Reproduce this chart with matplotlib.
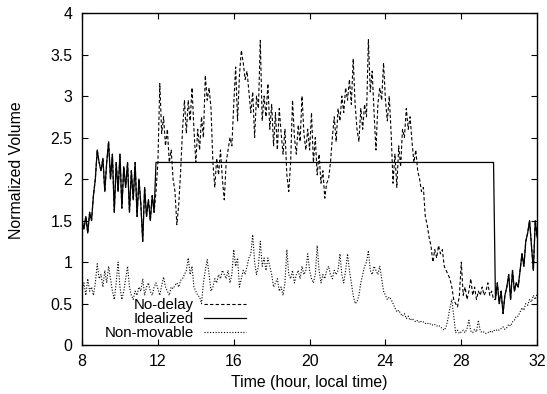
import numpy as np
import matplotlib
matplotlib.use("Agg")
import matplotlib.pyplot as plt
from matplotlib.ticker import FormatStrFormatter, MultipleLocator

plt.rcParams['font.family'] = ['Liberation Sans', 'DejaVu Sans']

# time grid: 8h .. 32h, one sample every 0.1 hour
hours = np.round(np.arange(8.0, 32.0001, 0.1), 1)

# No-delay volume (10 values per hour)
no_delay = [
    1.5, 1.4, 1.55, 1.35, 1.6, 1.5, 1.8, 2.0, 2.35, 2.2,        # 8
    2.1, 2.25, 1.85, 2.2, 2.45, 2.0, 2.3, 1.6, 2.2, 1.85,       # 9
    2.3, 1.65, 2.15, 1.9, 2.2, 1.6, 2.1, 1.75, 2.2, 1.55,       # 10
    2.0, 1.7, 1.25, 1.9, 1.55, 1.75, 1.5, 1.8, 1.6, 1.85,       # 11
    2.2, 3.15, 2.55, 2.75, 2.4, 2.6, 2.2, 2.35, 2.0, 1.85,      # 12
    1.45, 1.7, 2.1, 2.6, 2.95, 2.55, 2.95, 2.7, 3.1, 2.6,       # 13
    2.2, 2.6, 2.35, 2.75, 2.5, 3.25, 2.95, 3.1, 2.85, 2.2,      # 14
    1.9, 2.25, 2.05, 2.35, 2.0, 1.75, 2.2, 2.35, 2.5, 2.4,      # 15
    2.9, 3.35, 2.7, 3.25, 3.55, 3.4, 3.2, 3.3, 3.05, 2.8,       # 16
    3.05, 2.5, 3.0, 2.85, 3.67, 2.7, 3.0, 2.75, 3.15, 2.6,      # 17
    2.9, 2.4, 2.8, 2.35, 2.85, 2.55, 2.3, 2.6, 2.05, 1.85,      # 18
    2.2, 2.95, 2.5, 2.3, 2.65, 2.45, 3.0, 2.55, 2.35, 2.6,      # 19
    2.35, 2.8, 2.2, 2.5, 2.05, 2.3, 1.95, 2.1, 1.77, 1.95,      # 20
    2.0, 2.2, 2.5, 2.75, 2.45, 2.85, 2.7, 3.0, 2.8, 3.1,        # 21
    2.95, 3.2, 2.9, 3.45, 2.9, 2.6, 2.45, 2.85, 2.6, 2.9,       # 22
    2.75, 3.68, 3.05, 3.3, 2.8, 2.35, 2.9, 3.1, 2.95, 3.4,      # 23
    2.95, 2.7, 3.0, 2.55, 1.95, 2.3, 1.9, 2.4, 2.15, 2.6,       # 24
    2.5, 2.85, 2.6, 2.75, 2.45, 2.2, 2.35, 2.1, 2.0, 1.85,      # 25
    1.9, 1.55, 1.45, 1.3, 1.2, 1.0, 1.15, 1.05, 1.2, 1.1,       # 26
    1.15, 0.95, 0.9, 0.85, 0.8, 0.7, 0.55, 0.5, 0.46, 0.6,      # 27
    1.0, 0.6, 0.7, 0.55, 0.65, 0.8, 0.6, 0.7, 0.55, 0.65,       # 28
    0.6, 0.7, 0.6, 0.65, 0.75, 0.6, 0.65, 0.55, 0.55, 0.75,     # 29
    0.5, 0.65, 0.38, 0.6, 0.7, 0.85, 0.55, 0.9, 0.65, 0.75,     # 30
    0.7, 0.9, 1.1, 0.95, 1.25, 1.35, 1.5, 1.2, 0.9, 1.5,        # 31
    1.3,                                                        # 32
]

# Idealized: flat level while traffic is shifted, otherwise same as no-delay
ideal_level = 2.2
ideal_start = 11.9
ideal_end = 29.7

# Non-movable volume
non_movable = [
    0.65, 0.75, 0.6, 0.8, 0.65, 0.7, 0.6, 0.75, 0.98, 0.8,      # 8
    0.85, 0.7, 0.9, 0.75, 0.95, 0.8, 0.65, 0.55, 0.75, 1.0,     # 9
    0.7, 0.55, 0.65, 0.8, 0.95, 0.7, 0.6, 0.55, 0.65, 0.6,      # 10
    0.7, 0.65, 0.8, 0.6, 0.7, 0.75, 0.65, 0.6, 0.7, 0.75,       # 11
    0.68, 0.6, 0.72, 0.82, 0.7, 0.65, 0.6, 0.7, 0.68, 0.72,     # 12
    0.75, 0.7, 0.78, 0.8, 0.85, 0.9, 1.05, 0.85, 0.95, 0.7,     # 13
    0.65, 0.6, 0.58, 0.5, 0.75, 0.9, 1.03, 0.85, 0.65, 0.7,     # 14
    0.8, 0.75, 0.85, 0.8, 0.9, 0.85, 0.8, 0.9, 0.75, 0.85,      # 15
    1.15, 0.95, 1.05, 0.7, 0.8, 0.9, 0.85, 0.95, 1.05, 1.1,     # 16
    1.33, 1.0, 0.85, 0.95, 1.25, 0.95, 1.05, 0.9, 1.05, 0.95,   # 17
    0.85, 0.7, 0.75, 0.8, 0.65, 0.7, 0.6, 0.75, 1.15, 0.85,     # 18
    0.8, 0.9, 0.75, 0.85, 0.9, 0.8, 0.95, 0.85, 0.9, 1.1,       # 19
    0.9, 0.8, 0.75, 0.85, 1.2, 0.9, 0.75, 0.85, 0.8, 0.9,       # 20
    0.95, 0.85, 0.8, 0.9, 0.85, 0.9, 1.1, 0.85, 0.75, 0.9,      # 21
    1.1, 0.9, 0.75, 0.6, 0.5, 0.52, 0.6, 0.75, 0.85, 0.95,      # 22
    1.0, 1.14, 0.9, 0.85, 0.95, 0.9, 0.85, 0.95, 0.8, 0.65,     # 23
    0.6, 0.55, 0.58, 0.55, 0.5, 0.45, 0.4, 0.42, 0.38, 0.35,    # 24
    0.38, 0.32, 0.35, 0.3, 0.32, 0.3, 0.28, 0.3, 0.27, 0.29,    # 25
    0.28, 0.26, 0.27, 0.25, 0.26, 0.24, 0.25, 0.23, 0.24, 0.22, # 26
    0.2, 0.18, 0.22, 0.32, 0.45, 0.55, 0.35, 0.15, 0.18, 0.14,  # 27
    0.16, 0.18, 0.15, 0.2, 0.3, 0.17, 0.15, 0.19, 0.16, 0.3,    # 28
    0.17, 0.15, 0.16, 0.14, 0.15, 0.17, 0.15, 0.18, 0.17, 0.19, # 29
    0.18, 0.2, 0.22, 0.19, 0.21, 0.25, 0.23, 0.28, 0.3, 0.35,   # 30
    0.35, 0.4, 0.45, 0.42, 0.5, 0.48, 0.55, 0.52, 0.6, 0.55,    # 31
    0.62,                                                       # 32
]

x_ticks = [8, 12, 16, 20, 24, 28, 32]

no_delay = np.array(no_delay)
non_movable = np.array(non_movable)
shifted = (hours >= ideal_start) & (hours <= ideal_end)
idealized = np.where(shifted, ideal_level, no_delay)

fs = 11.4

fig = plt.figure(figsize=(5.47, 3.94), dpi=100)
ax = fig.add_axes([0.150, 0.124, 0.832, 0.843])

ax.plot(hours, no_delay, color='black', lw=0.8, dashes=(3, 2), label='No-delay')
ax.plot(hours, idealized, color='black', lw=0.9, label='Idealized')
ax.plot(hours, non_movable, color='black', lw=0.8, dashes=(1, 1.5), label='Non-movable')

ax.set_xlim(8, 32)
ax.set_ylim(0, 4)
ax.set_xticks(x_ticks)
ax.yaxis.set_major_locator(MultipleLocator(0.5))
ax.yaxis.set_major_formatter(FormatStrFormatter('%g'))
ax.tick_params(direction='in', length=4, width=0.8, top=True, right=True,
               labelsize=fs)
ax.tick_params(axis='x', pad=6.5)
ax.tick_params(axis='y', pad=7)
for s in ax.spines.values():
    s.set_linewidth(1.0)

ax.set_xlabel('Time (hour, local time)', fontsize=fs, labelpad=4)
ax.set_ylabel('Normalized Volume', fontsize=fs)
ax.yaxis.set_label_coords(-0.128, 0.527)

leg = ax.legend(loc='lower left', bbox_to_anchor=(0.05, 0.015), frameon=False,
                markerfirst=False, fontsize=10.8, handlelength=2.8,
                handletextpad=0.66, labelspacing=0.0, borderpad=0,
                borderaxespad=0)
# gnuplot style: labels right-aligned against their samples
for col in leg._legend_handle_box.get_children():
    col.align = 'right'

fig.savefig('out.png', dpi=100)
